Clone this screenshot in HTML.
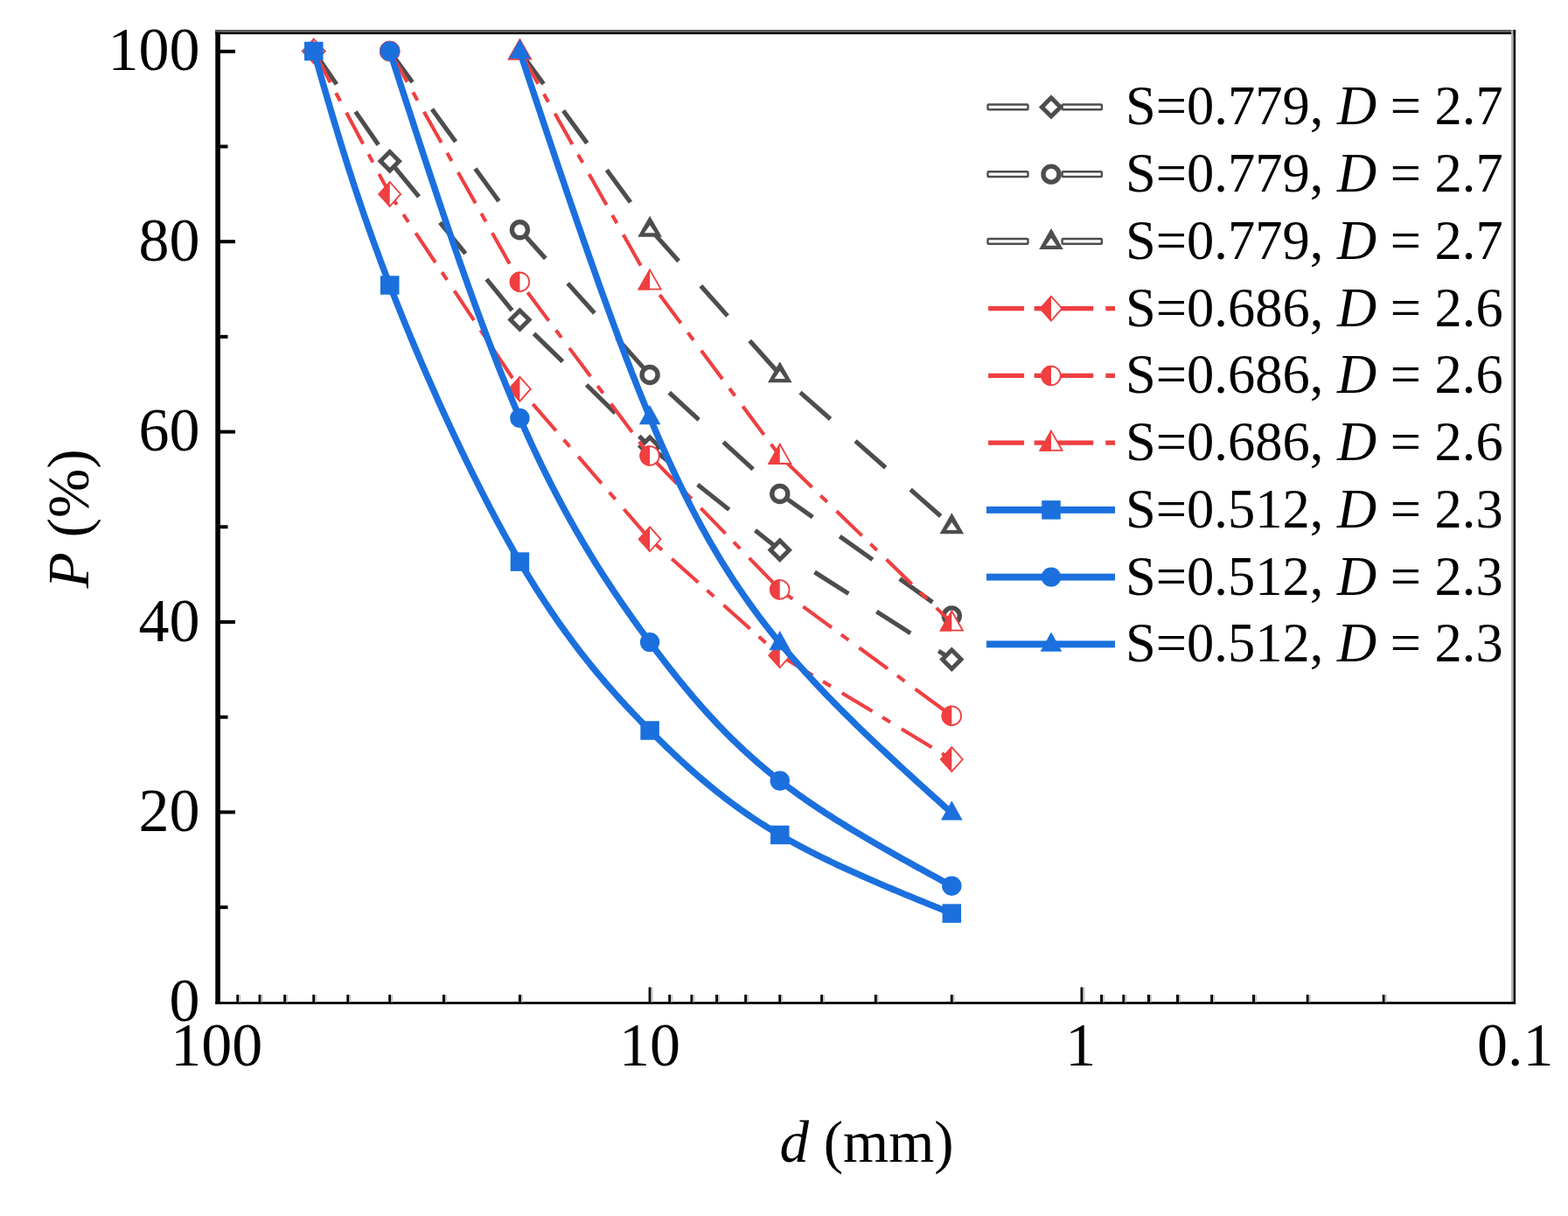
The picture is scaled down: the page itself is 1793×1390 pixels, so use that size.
<!DOCTYPE html>
<html><head><meta charset="utf-8"><title>Particle size distribution</title>
<style>html,body{margin:0;padding:0;background:#fff;overflow:hidden}svg{display:block}</style>
</head><body><svg width="1793" height="1390" viewBox="0 0 1793 1390"><rect width="1793" height="1390" fill="#fff"/><path d="M358.77 58.5L445.74 184.3" stroke="#4D4D4D" stroke-width="5.1" fill="none" stroke-dasharray="46 38" stroke-dashoffset="0"/><path d="M445.74 184.3L594.42 365.6" stroke="#4D4D4D" stroke-width="5.1" fill="none" stroke-dasharray="46 38" stroke-dashoffset="77.5"/><path d="M594.42 365.6L743.1 510.6" stroke="#4D4D4D" stroke-width="5.1" fill="none" stroke-dasharray="46 38" stroke-dashoffset="61.5"/><path d="M743.1 510.6L891.78 628.7" stroke="#4D4D4D" stroke-width="5.1" fill="none" stroke-dasharray="46 38" stroke-dashoffset="14.2"/><path d="M891.78 628.7L1088.32 753.8" stroke="#4D4D4D" stroke-width="5.1" fill="none" stroke-dasharray="46 38" stroke-dashoffset="36.9"/><path d="M358.77 44.3L372.97 58.5L358.77 72.7L344.57 58.5Z" fill="#4D4D4D"/><path d="M358.77 51.3L351.57 58.5L358.77 65.7L365.97 58.5Z" fill="#fff"/><path d="M445.74 170.1L459.94 184.3L445.74 198.5L431.54 184.3Z" fill="#4D4D4D"/><path d="M445.74 177.1L438.54 184.3L445.74 191.5L452.94 184.3Z" fill="#fff"/><path d="M594.42 351.4L608.62 365.6L594.42 379.8L580.22 365.6Z" fill="#4D4D4D"/><path d="M594.42 358.4L587.22 365.6L594.42 372.8L601.62 365.6Z" fill="#fff"/><path d="M743.1 496.4L757.3 510.6L743.1 524.8L728.9 510.6Z" fill="#4D4D4D"/><path d="M743.1 503.4L735.9 510.6L743.1 517.8L750.3 510.6Z" fill="#fff"/><path d="M891.78 614.5L905.98 628.7L891.78 642.9L877.58 628.7Z" fill="#4D4D4D"/><path d="M891.78 621.5L884.58 628.7L891.78 635.9L898.98 628.7Z" fill="#fff"/><path d="M1088.32 739.6L1102.52 753.8L1088.32 768L1074.12 753.8Z" fill="#4D4D4D"/><path d="M1088.32 746.6L1081.12 753.8L1088.32 761L1095.52 753.8Z" fill="#fff"/><path d="M445.74 58.5L594.42 262.8" stroke="#4D4D4D" stroke-width="5.1" fill="none" stroke-dasharray="46 38" stroke-dashoffset="2"/><path d="M594.42 262.8L743.1 428.5" stroke="#4D4D4D" stroke-width="5.1" fill="none" stroke-dasharray="46 38" stroke-dashoffset="2"/><path d="M743.1 428.5L891.78 564.5" stroke="#4D4D4D" stroke-width="5.1" fill="none" stroke-dasharray="46 38" stroke-dashoffset="54"/><path d="M891.78 564.5L1088.32 703.9" stroke="#4D4D4D" stroke-width="5.1" fill="none" stroke-dasharray="46 38" stroke-dashoffset="0"/><circle cx="445.74" cy="58.5" r="9" fill="#fff" stroke="#4D4D4D" stroke-width="5.4"/><circle cx="594.42" cy="262.8" r="9" fill="#fff" stroke="#4D4D4D" stroke-width="5.4"/><circle cx="743.1" cy="428.5" r="9" fill="#fff" stroke="#4D4D4D" stroke-width="5.4"/><circle cx="891.78" cy="564.5" r="9" fill="#fff" stroke="#4D4D4D" stroke-width="5.4"/><circle cx="1088.32" cy="703.9" r="9" fill="#fff" stroke="#4D4D4D" stroke-width="5.4"/><path d="M594.42 58.8L743.1 261.5" stroke="#4D4D4D" stroke-width="5.1" fill="none" stroke-dasharray="46 38" stroke-dashoffset="0"/><path d="M743.1 261.5L891.78 428.1" stroke="#4D4D4D" stroke-width="5.1" fill="none" stroke-dasharray="46 38" stroke-dashoffset="80.5"/><path d="M891.78 428.1L1088.32 601.1" stroke="#4D4D4D" stroke-width="5.1" fill="none" stroke-dasharray="46 38" stroke-dashoffset="53"/><path d="M594.42 44L608.22 68L580.62 68Z" fill="#4D4D4D"/><path d="M594.42 54.8L588.22 63.6L600.62 63.6Z" fill="#fff"/><path d="M743.1 246.7L756.9 270.7L729.3 270.7Z" fill="#4D4D4D"/><path d="M743.1 257.5L736.9 266.3L749.3 266.3Z" fill="#fff"/><path d="M891.78 413.3L905.58 437.3L877.98 437.3Z" fill="#4D4D4D"/><path d="M891.78 424.1L885.58 432.9L897.98 432.9Z" fill="#fff"/><path d="M1088.32 586.3L1102.12 610.3L1074.52 610.3Z" fill="#4D4D4D"/><path d="M1088.32 597.1L1082.12 605.9L1094.52 605.9Z" fill="#fff"/><path d="M358.77 58.5L445.74 221.9" stroke="#EF3F41" stroke-width="4.1" fill="none" stroke-dasharray="40.5 13.5 10.5 15" stroke-dashoffset="0"/><path d="M445.74 221.9L594.42 444.7" stroke="#EF3F41" stroke-width="4.1" fill="none" stroke-dasharray="40.5 13.5 10.5 15" stroke-dashoffset="26.1"/><path d="M594.42 444.7L743.1 616.3" stroke="#EF3F41" stroke-width="4.1" fill="none" stroke-dasharray="40.5 13.5 10.5 15" stroke-dashoffset="56.8"/><path d="M743.1 616.3L891.78 749.2" stroke="#EF3F41" stroke-width="4.1" fill="none" stroke-dasharray="40.5 13.5 10.5 15" stroke-dashoffset="45.8"/><path d="M891.78 749.2L1088.32 868" stroke="#EF3F41" stroke-width="4.1" fill="none" stroke-dasharray="40.5 13.5 10.5 15" stroke-dashoffset="76"/><path d="M358.77 44.6L371.17 58.5L358.77 72.4L346.37 58.5Z" fill="#fff" stroke="#EF3F41" stroke-width="1.8"/><path d="M358.77 43.6L345.37 58.5L358.77 73.4Z" fill="#EF3F41"/><path d="M445.74 208L458.14 221.9L445.74 235.8L433.34 221.9Z" fill="#fff" stroke="#EF3F41" stroke-width="1.8"/><path d="M445.74 207L432.34 221.9L445.74 236.8Z" fill="#EF3F41"/><path d="M594.42 430.8L606.82 444.7L594.42 458.6L582.02 444.7Z" fill="#fff" stroke="#EF3F41" stroke-width="1.8"/><path d="M594.42 429.8L581.02 444.7L594.42 459.6Z" fill="#EF3F41"/><path d="M743.1 602.4L755.5 616.3L743.1 630.2L730.7 616.3Z" fill="#fff" stroke="#EF3F41" stroke-width="1.8"/><path d="M743.1 601.4L729.7 616.3L743.1 631.2Z" fill="#EF3F41"/><path d="M891.78 735.3L904.18 749.2L891.78 763.1L879.38 749.2Z" fill="#fff" stroke="#EF3F41" stroke-width="1.8"/><path d="M891.78 734.3L878.38 749.2L891.78 764.1Z" fill="#EF3F41"/><path d="M1088.32 854.1L1100.72 868L1088.32 881.9L1075.92 868Z" fill="#fff" stroke="#EF3F41" stroke-width="1.8"/><path d="M1088.32 853.1L1074.92 868L1088.32 882.9Z" fill="#EF3F41"/><path d="M445.74 58.5L594.42 322.3" stroke="#EF3F41" stroke-width="4.1" fill="none" stroke-dasharray="40.5 13.5 10.5 15" stroke-dashoffset="0"/><path d="M594.42 322.3L743.1 521" stroke="#EF3F41" stroke-width="4.1" fill="none" stroke-dasharray="40.5 13.5 10.5 15" stroke-dashoffset="64.6"/><path d="M743.1 521L891.78 673.9" stroke="#EF3F41" stroke-width="4.1" fill="none" stroke-dasharray="40.5 13.5 10.5 15" stroke-dashoffset="75.5"/><path d="M891.78 673.9L1088.32 818.2" stroke="#EF3F41" stroke-width="4.1" fill="none" stroke-dasharray="40.5 13.5 10.5 15" stroke-dashoffset="46.5"/><circle cx="445.74" cy="58.5" r="10.8" fill="#fff" stroke="#EF3F41" stroke-width="1.8"/><path d="M445.74 46.8A11.7 11.7 0 0 0 445.74 70.2Z" fill="#EF3F41"/><circle cx="594.42" cy="322.3" r="10.8" fill="#fff" stroke="#EF3F41" stroke-width="1.8"/><path d="M594.42 310.6A11.7 11.7 0 0 0 594.42 334Z" fill="#EF3F41"/><circle cx="743.1" cy="521" r="10.8" fill="#fff" stroke="#EF3F41" stroke-width="1.8"/><path d="M743.1 509.3A11.7 11.7 0 0 0 743.1 532.7Z" fill="#EF3F41"/><circle cx="891.78" cy="673.9" r="10.8" fill="#fff" stroke="#EF3F41" stroke-width="1.8"/><path d="M891.78 662.2A11.7 11.7 0 0 0 891.78 685.6Z" fill="#EF3F41"/><circle cx="1088.32" cy="818.2" r="10.8" fill="#fff" stroke="#EF3F41" stroke-width="1.8"/><path d="M1088.32 806.5A11.7 11.7 0 0 0 1088.32 829.9Z" fill="#EF3F41"/><path d="M594.42 58.8L743.1 321.9" stroke="#EF3F41" stroke-width="4.1" fill="none" stroke-dasharray="40.5 13.5 10.5 15" stroke-dashoffset="77.5"/><path d="M743.1 321.9L891.78 521.3" stroke="#EF3F41" stroke-width="4.1" fill="none" stroke-dasharray="40.5 13.5 10.5 15" stroke-dashoffset="60.7"/><path d="M891.78 521.3L1088.32 712" stroke="#EF3F41" stroke-width="4.1" fill="none" stroke-dasharray="40.5 13.5 10.5 15" stroke-dashoffset="68.7"/><path d="M594.42 45.3L607.02 67.5L581.82 67.5Z" fill="#fff" stroke="#EF3F41" stroke-width="1.8"/><path d="M594.42 44.1L580.62 68.4L594.42 68.4Z" fill="#EF3F41"/><path d="M743.1 308.4L755.7 330.6L730.5 330.6Z" fill="#fff" stroke="#EF3F41" stroke-width="1.8"/><path d="M743.1 307.2L729.3 331.5L743.1 331.5Z" fill="#EF3F41"/><path d="M891.78 507.8L904.38 530L879.18 530Z" fill="#fff" stroke="#EF3F41" stroke-width="1.8"/><path d="M891.78 506.6L877.98 530.9L891.78 530.9Z" fill="#EF3F41"/><path d="M1088.32 698.5L1100.92 720.7L1075.72 720.7Z" fill="#fff" stroke="#EF3F41" stroke-width="1.8"/><path d="M1088.32 697.3L1074.52 721.6L1088.32 721.6Z" fill="#EF3F41"/><path d="M358.77 58.5L359.95 62.62L361.13 66.73L362.31 70.85L363.49 74.97L364.67 79.09L365.85 83.21L367.04 87.34L368.23 91.47L369.43 95.6L370.62 99.75L371.83 103.89L373.03 108.04L374.25 112.2L375.47 116.37L376.69 120.55L377.92 124.73L379.16 128.92L380.41 133.13L381.67 137.34L382.93 141.56L384.2 145.8L385.49 150.05L386.78 154.31L388.08 158.58L389.39 162.87L390.72 167.17L392.06 171.48L393.41 175.81L394.77 180.16L396.14 184.53L397.53 188.91L398.93 193.31L400.35 197.72L401.78 202.16L403.23 206.61L404.69 211.09L406.17 215.59L407.67 220.1L409.18 224.64L410.71 229.2L412.26 233.79L413.83 238.4L415.42 243.03L417.02 247.68L418.65 252.37L420.3 257.07L421.96 261.81L423.65 266.57L425.36 271.36L427.1 276.17L428.85 281.02L430.63 285.89L432.43 290.79L434.26 295.73L436.11 300.69L437.98 305.69L439.88 310.72L441.81 315.78L443.76 320.87L445.74 326L447.75 331.16L449.78 336.36L451.84 341.58L453.93 346.84L456.04 352.12L458.17 357.43L460.33 362.77L462.51 368.13L464.71 373.51L466.94 378.91L469.19 384.34L471.46 389.78L473.75 395.23L476.06 400.7L478.39 406.19L480.73 411.68L483.1 417.19L485.48 422.7L487.89 428.22L490.3 433.75L492.74 439.28L495.19 444.82L497.65 450.35L500.13 455.89L502.63 461.42L505.13 466.95L507.65 472.47L510.19 477.99L512.73 483.5L515.28 489L517.85 494.49L520.43 499.97L523.01 505.43L525.61 510.88L528.21 516.31L530.82 521.72L533.44 527.11L536.06 532.48L538.69 537.83L541.33 543.15L543.97 548.44L546.62 553.71L549.27 558.95L551.93 564.16L554.58 569.34L557.24 574.48L559.9 579.59L562.57 584.66L565.23 589.69L567.89 594.68L570.56 599.64L573.22 604.55L575.88 609.41L578.54 614.23L581.2 619L583.85 623.73L586.5 628.4L589.15 633.02L591.79 637.59L594.42 642.1L597.05 646.56L599.67 650.96L602.29 655.3L604.91 659.6L607.51 663.84L610.11 668.02L612.71 672.16L615.3 676.24L617.88 680.27L620.46 684.25L623.03 688.18L625.6 692.07L628.16 695.9L630.72 699.69L633.27 703.43L635.82 707.13L638.36 710.78L640.89 714.39L643.42 717.95L645.95 721.47L648.47 724.95L650.98 728.38L653.49 731.78L656 735.13L658.5 738.45L660.99 741.72L663.48 744.96L665.97 748.16L668.45 751.32L670.92 754.45L673.39 757.54L675.86 760.6L678.32 763.63L680.78 766.62L683.23 769.58L685.67 772.5L688.12 775.4L690.55 778.26L692.99 781.1L695.42 783.9L697.84 786.68L700.26 789.43L702.68 792.15L705.09 794.85L707.49 797.52L709.9 800.17L712.29 802.79L714.69 805.39L717.08 807.96L719.46 810.52L721.84 813.05L724.22 815.56L726.6 818.05L728.97 820.53L731.33 822.98L733.69 825.42L736.05 827.84L738.4 830.24L740.75 832.63L743.1 835L745.44 837.36L747.78 839.7L750.12 842.03L752.45 844.35L754.78 846.65L757.11 848.93L759.44 851.21L761.77 853.47L764.1 855.71L766.42 857.95L768.75 860.17L771.08 862.37L773.41 864.56L775.74 866.74L778.07 868.91L780.41 871.06L782.75 873.2L785.09 875.33L787.43 877.45L789.78 879.55L792.14 881.64L794.49 883.72L796.86 885.78L799.23 887.84L801.6 889.88L803.98 891.91L806.37 893.92L808.77 895.93L811.17 897.92L813.59 899.91L816.01 901.88L818.44 903.83L820.88 905.78L823.32 907.72L825.78 909.64L828.25 911.56L830.73 913.46L833.23 915.35L835.73 917.23L838.25 919.1L840.78 920.96L843.32 922.81L845.87 924.65L848.44 926.48L851.03 928.3L853.62 930.11L856.24 931.9L858.87 933.69L861.51 935.47L864.17 937.24L866.85 939L869.55 940.74L872.26 942.48L874.99 944.21L877.74 945.93L880.51 947.65L883.3 949.35L886.1 951.04L888.93 952.72L891.78 954.4L894.7 956.09L897.63 957.78L900.59 959.46L903.57 961.13L906.57 962.79L909.59 964.44L912.63 966.08L915.69 967.72L918.77 969.34L921.86 970.96L924.98 972.57L928.11 974.18L931.25 975.78L934.42 977.37L937.6 978.95L940.8 980.53L944.01 982.1L947.24 983.66L950.48 985.22L953.74 986.77L957.01 988.31L960.3 989.85L963.6 991.39L966.91 992.92L970.24 994.44L973.58 995.96L976.93 997.47L980.29 998.98L983.66 1000.48L987.04 1001.98L990.44 1003.47L993.85 1004.96L997.26 1006.44L1000.68 1007.92L1004.12 1009.4L1007.56 1010.88L1011.01 1012.35L1014.47 1013.81L1017.94 1015.28L1021.41 1016.74L1024.89 1018.19L1028.38 1019.65L1031.87 1021.1L1035.37 1022.55L1038.88 1024L1042.39 1025.44L1045.9 1026.88L1049.42 1028.33L1052.95 1029.76L1056.47 1031.2L1060 1032.64L1063.54 1034.07L1067.07 1035.51L1070.61 1036.94L1074.15 1038.37L1077.69 1039.81L1081.23 1041.24L1084.78 1042.67L1088.32 1044.1" stroke="#1B70DE" stroke-width="7.4" fill="none" stroke-linejoin="round"/><rect x="348.02" y="47.75" width="21.5" height="21.5" fill="#1B70DE"/><rect x="434.99" y="315.25" width="21.5" height="21.5" fill="#1B70DE"/><rect x="583.67" y="631.35" width="21.5" height="21.5" fill="#1B70DE"/><rect x="732.35" y="824.25" width="21.5" height="21.5" fill="#1B70DE"/><rect x="881.03" y="943.65" width="21.5" height="21.5" fill="#1B70DE"/><rect x="1077.57" y="1033.35" width="21.5" height="21.5" fill="#1B70DE"/><path d="M445.74 58.5L448.21 66.11L450.67 73.73L453.13 81.34L455.6 88.94L458.06 96.55L460.53 104.14L462.99 111.74L465.45 119.32L467.92 126.9L470.38 134.46L472.85 142.02L475.31 149.56L477.78 157.1L480.25 164.61L482.71 172.12L485.18 179.61L487.65 187.08L490.11 194.53L492.58 201.97L495.05 209.38L497.52 216.78L499.99 224.15L502.46 231.5L504.93 238.83L507.4 246.13L509.87 253.41L512.34 260.66L514.81 267.88L517.29 275.07L519.76 282.23L522.24 289.36L524.71 296.46L527.19 303.52L529.67 310.55L532.14 317.55L534.62 324.51L537.1 331.43L539.58 338.31L542.06 345.15L544.55 351.96L547.03 358.72L549.51 365.44L552 372.11L554.48 378.74L556.97 385.33L559.46 391.86L561.95 398.35L564.44 404.79L566.93 411.19L569.42 417.53L571.92 423.81L574.41 430.05L576.91 436.23L579.41 442.36L581.91 448.43L584.41 454.44L586.91 460.4L589.41 466.29L591.92 472.13L594.42 477.9L596.93 483.61L599.44 489.26L601.95 494.85L604.46 500.38L606.97 505.85L609.48 511.26L611.99 516.61L614.51 521.91L617.02 527.14L619.54 532.32L622.05 537.45L624.57 542.52L627.08 547.53L629.6 552.49L632.11 557.4L634.63 562.26L637.14 567.06L639.65 571.82L642.17 576.52L644.68 581.17L647.19 585.78L649.7 590.33L652.21 594.84L654.71 599.3L657.22 603.72L659.72 608.08L662.23 612.41L664.73 616.69L667.23 620.92L669.72 625.11L672.22 629.26L674.71 633.37L677.2 637.44L679.69 641.46L682.17 645.45L684.65 649.4L687.13 653.3L689.61 657.18L692.08 661.01L694.55 664.81L697.02 668.57L699.48 672.29L701.94 675.98L704.4 679.64L706.85 683.27L709.3 686.86L711.74 690.42L714.18 693.95L716.62 697.45L719.05 700.91L721.48 704.35L723.9 707.76L726.32 711.15L728.73 714.5L731.14 717.83L733.54 721.13L735.94 724.41L738.33 727.66L740.72 730.89L743.1 734.1L745.48 737.28L747.85 740.44L750.21 743.58L752.57 746.7L754.93 749.79L757.28 752.87L759.63 755.92L761.98 758.95L764.33 761.96L766.67 764.95L769.02 767.92L771.36 770.87L773.7 773.8L776.04 776.7L778.39 779.59L780.73 782.46L783.08 785.31L785.42 788.14L787.77 790.95L790.13 793.75L792.48 796.52L794.84 799.28L797.21 802.02L799.58 804.74L801.95 807.44L804.33 810.12L806.72 812.79L809.11 815.44L811.51 818.08L813.91 820.69L816.33 823.3L818.75 825.88L821.18 828.45L823.62 831L826.07 833.54L828.53 836.06L831 838.57L833.49 841.06L835.98 843.54L838.48 846L841 848.45L843.53 850.88L846.07 853.3L848.63 855.71L851.2 858.1L853.79 860.48L856.39 862.84L859.01 865.2L861.64 867.54L864.29 869.87L866.95 872.18L869.64 874.48L872.34 876.78L875.06 879.06L877.79 881.32L880.55 883.58L883.33 885.83L886.12 888.06L888.94 890.29L891.78 892.5L894.69 894.74L897.62 896.97L900.57 899.19L903.54 901.4L906.53 903.6L909.54 905.79L912.58 907.97L915.63 910.14L918.7 912.31L921.79 914.46L924.9 916.6L928.02 918.74L931.17 920.87L934.33 922.99L937.5 925.1L940.7 927.2L943.91 929.3L947.13 931.38L950.38 933.47L953.63 935.54L956.9 937.6L960.19 939.66L963.49 941.72L966.8 943.76L970.12 945.8L973.46 947.84L976.81 949.87L980.18 951.89L983.55 953.9L986.94 955.92L990.33 957.92L993.74 959.92L997.16 961.92L1000.58 963.91L1004.02 965.9L1007.46 967.88L1010.92 969.86L1014.38 971.83L1017.85 973.8L1021.33 975.77L1024.81 977.73L1028.3 979.69L1031.8 981.65L1035.3 983.61L1038.81 985.56L1042.33 987.51L1045.85 989.45L1049.37 991.4L1052.9 993.34L1056.43 995.28L1059.97 997.22L1063.5 999.16L1067.04 1001.1L1070.59 1003.03L1074.13 1004.97L1077.68 1006.9L1081.22 1008.83L1084.77 1010.77L1088.32 1012.7" stroke="#1B70DE" stroke-width="7.4" fill="none" stroke-linejoin="round"/><circle cx="445.74" cy="58.5" r="11.2" fill="#1B70DE"/><circle cx="594.42" cy="477.9" r="11.2" fill="#1B70DE"/><circle cx="743.1" cy="734.1" r="11.2" fill="#1B70DE"/><circle cx="891.78" cy="892.5" r="11.2" fill="#1B70DE"/><circle cx="1088.32" cy="1012.7" r="11.2" fill="#1B70DE"/><path d="M594.42 58.8L596.95 66.41L599.48 74.02L602.01 81.63L604.54 89.24L607.08 96.84L609.61 104.43L612.13 112.02L614.66 119.6L617.19 127.18L619.72 134.74L622.24 142.29L624.77 149.83L627.29 157.36L629.82 164.88L632.34 172.38L634.86 179.86L637.38 187.33L639.9 194.77L642.41 202.2L644.93 209.61L647.44 217L649.95 224.36L652.46 231.7L654.96 239.02L657.47 246.31L659.97 253.58L662.47 260.81L664.97 268.02L667.46 275.2L669.96 282.34L672.45 289.46L674.93 296.54L677.42 303.58L679.9 310.6L682.38 317.57L684.85 324.51L687.33 331.41L689.79 338.27L692.26 345.09L694.72 351.86L697.18 358.6L699.64 365.29L702.09 371.93L704.53 378.53L706.98 385.09L709.42 391.59L711.85 398.05L714.28 404.45L716.71 410.81L719.13 417.11L721.55 423.35L723.96 429.55L726.37 435.68L728.78 441.77L731.18 447.79L733.57 453.75L735.96 459.66L738.35 465.5L740.73 471.28L743.1 477L745.47 482.65L747.83 488.25L750.19 493.77L752.55 499.24L754.9 504.65L757.25 509.99L759.6 515.28L761.94 520.51L764.28 525.69L766.62 530.8L768.96 535.86L771.3 540.87L773.64 545.83L775.98 550.73L778.33 555.58L780.67 560.38L783.01 565.12L785.36 569.82L787.71 574.48L790.06 579.08L792.42 583.64L794.78 588.15L797.14 592.62L799.51 597.05L801.88 601.43L804.26 605.77L806.65 610.07L809.04 614.33L811.44 618.55L813.85 622.73L816.27 626.88L818.69 630.99L821.12 635.06L823.56 639.1L826.02 643.11L828.48 647.08L830.95 651.02L833.43 654.93L835.93 658.81L838.44 662.66L840.96 666.48L843.49 670.27L846.04 674.04L848.6 677.78L851.17 681.5L853.76 685.19L856.36 688.87L858.98 692.51L861.61 696.14L864.27 699.75L866.93 703.34L869.62 706.9L872.32 710.46L875.04 713.99L877.78 717.51L880.54 721.01L883.32 724.5L886.12 727.98L888.94 731.45L891.78 734.9L894.69 738.4L897.62 741.89L900.57 745.37L903.54 748.84L906.54 752.3L909.55 755.75L912.59 759.19L915.64 762.62L918.71 766.05L921.8 769.46L924.91 772.86L928.04 776.26L931.18 779.64L934.34 783.02L937.52 786.39L940.72 789.75L943.93 793.11L947.15 796.45L950.4 799.79L953.65 803.12L956.92 806.45L960.21 809.76L963.51 813.08L966.82 816.38L970.15 819.68L973.49 822.97L976.84 826.25L980.2 829.53L983.57 832.81L986.96 836.08L990.35 839.34L993.76 842.6L997.18 845.85L1000.6 849.1L1004.04 852.34L1007.48 855.58L1010.94 858.82L1014.4 862.05L1017.87 865.28L1021.34 868.5L1024.83 871.72L1028.32 874.94L1031.81 878.15L1035.32 881.36L1038.83 884.57L1042.34 887.78L1045.86 890.98L1049.38 894.18L1052.91 897.38L1056.44 900.58L1059.97 903.77L1063.51 906.97L1067.05 910.16L1070.59 913.35L1074.14 916.54L1077.68 919.73L1081.23 922.92L1084.77 926.11L1088.32 929.3" stroke="#1B70DE" stroke-width="7.4" fill="none" stroke-linejoin="round"/><path d="M594.42 44.8L606.72 67.1L582.12 67.1Z" fill="#1B70DE"/><path d="M743.1 463L755.4 485.3L730.8 485.3Z" fill="#1B70DE"/><path d="M891.78 720.9L904.08 743.2L879.48 743.2Z" fill="#1B70DE"/><path d="M1088.32 915.3L1100.62 937.6L1076.02 937.6Z" fill="#1B70DE"/><rect x="246.3" y="34" width="5.6" height="1113.8" fill="#000"/><rect x="246.3" y="34" width="1486.8" height="2.9" fill="#5e5e5e"/><rect x="246.3" y="36.9" width="1486.8" height="2.3" fill="#000"/><rect x="1728.1" y="34" width="2.5" height="1113.8" fill="#b0b0b0"/><rect x="1730.6" y="34" width="2.5" height="1113.8" fill="#000"/><rect x="246.3" y="1145.1" width="1486.8" height="2.8" fill="#000"/><rect x="251.5" y="1035.1" width="9.0" height="4" fill="#000"/><rect x="251.5" y="926.4" width="17.5" height="4" fill="#000"/><rect x="251.5" y="817.7" width="9.0" height="4" fill="#000"/><rect x="251.5" y="709" width="17.5" height="4" fill="#000"/><rect x="251.5" y="600.3" width="9.0" height="4" fill="#000"/><rect x="251.5" y="491.6" width="17.5" height="4" fill="#000"/><rect x="251.5" y="382.9" width="9.0" height="4" fill="#000"/><rect x="251.5" y="274.2" width="17.5" height="4" fill="#000"/><rect x="251.5" y="165.5" width="9.0" height="4" fill="#000"/><rect x="251.5" y="56.8" width="17.5" height="4" fill="#000"/><rect x="741.6" y="1128.5" width="3" height="17" fill="#000"/><rect x="744.6" y="1128.5" width="2" height="17" fill="#c8c8c8"/><rect x="1235.5" y="1128.5" width="3" height="17" fill="#000"/><rect x="1238.5" y="1128.5" width="2" height="17" fill="#c8c8c8"/><rect x="592.92" y="1137" width="3" height="8.5" fill="#000"/><rect x="595.92" y="1137" width="2" height="8.5" fill="#c8c8c8"/><rect x="505.95" y="1137" width="3" height="8.5" fill="#000"/><rect x="508.95" y="1137" width="2" height="8.5" fill="#c8c8c8"/><rect x="444.24" y="1137" width="3" height="8.5" fill="#000"/><rect x="447.24" y="1137" width="2" height="8.5" fill="#c8c8c8"/><rect x="396.38" y="1137" width="3" height="8.5" fill="#000"/><rect x="399.38" y="1137" width="2" height="8.5" fill="#c8c8c8"/><rect x="357.27" y="1137" width="3" height="8.5" fill="#000"/><rect x="360.27" y="1137" width="2" height="8.5" fill="#c8c8c8"/><rect x="324.21" y="1137" width="3" height="8.5" fill="#000"/><rect x="327.21" y="1137" width="2" height="8.5" fill="#c8c8c8"/><rect x="295.56" y="1137" width="3" height="8.5" fill="#000"/><rect x="298.56" y="1137" width="2" height="8.5" fill="#c8c8c8"/><rect x="270.3" y="1137" width="3" height="8.5" fill="#000"/><rect x="273.3" y="1137" width="2" height="8.5" fill="#c8c8c8"/><rect x="1086.82" y="1137" width="3" height="8.5" fill="#000"/><rect x="1089.82" y="1137" width="2" height="8.5" fill="#c8c8c8"/><rect x="999.85" y="1137" width="3" height="8.5" fill="#000"/><rect x="1002.85" y="1137" width="2" height="8.5" fill="#c8c8c8"/><rect x="938.14" y="1137" width="3" height="8.5" fill="#000"/><rect x="941.14" y="1137" width="2" height="8.5" fill="#c8c8c8"/><rect x="890.28" y="1137" width="3" height="8.5" fill="#000"/><rect x="893.28" y="1137" width="2" height="8.5" fill="#c8c8c8"/><rect x="851.17" y="1137" width="3" height="8.5" fill="#000"/><rect x="854.17" y="1137" width="2" height="8.5" fill="#c8c8c8"/><rect x="818.11" y="1137" width="3" height="8.5" fill="#000"/><rect x="821.11" y="1137" width="2" height="8.5" fill="#c8c8c8"/><rect x="789.46" y="1137" width="3" height="8.5" fill="#000"/><rect x="792.46" y="1137" width="2" height="8.5" fill="#c8c8c8"/><rect x="764.2" y="1137" width="3" height="8.5" fill="#000"/><rect x="767.2" y="1137" width="2" height="8.5" fill="#c8c8c8"/><rect x="1580.72" y="1137" width="3" height="8.5" fill="#000"/><rect x="1583.72" y="1137" width="2" height="8.5" fill="#c8c8c8"/><rect x="1493.75" y="1137" width="3" height="8.5" fill="#000"/><rect x="1496.75" y="1137" width="2" height="8.5" fill="#c8c8c8"/><rect x="1432.04" y="1137" width="3" height="8.5" fill="#000"/><rect x="1435.04" y="1137" width="2" height="8.5" fill="#c8c8c8"/><rect x="1384.18" y="1137" width="3" height="8.5" fill="#000"/><rect x="1387.18" y="1137" width="2" height="8.5" fill="#c8c8c8"/><rect x="1345.07" y="1137" width="3" height="8.5" fill="#000"/><rect x="1348.07" y="1137" width="2" height="8.5" fill="#c8c8c8"/><rect x="1312.01" y="1137" width="3" height="8.5" fill="#000"/><rect x="1315.01" y="1137" width="2" height="8.5" fill="#c8c8c8"/><rect x="1283.36" y="1137" width="3" height="8.5" fill="#000"/><rect x="1286.36" y="1137" width="2" height="8.5" fill="#c8c8c8"/><rect x="1258.1" y="1137" width="3" height="8.5" fill="#000"/><rect x="1261.1" y="1137" width="2" height="8.5" fill="#c8c8c8"/><text x="228.6" y="1167.4" font-size="70" text-anchor="end" font-family="'Liberation Serif','Times New Roman',serif">0</text><text x="228.6" y="950" font-size="70" text-anchor="end" font-family="'Liberation Serif','Times New Roman',serif">20</text><text x="228.6" y="732.6" font-size="70" text-anchor="end" font-family="'Liberation Serif','Times New Roman',serif">40</text><text x="228.6" y="515.2" font-size="70" text-anchor="end" font-family="'Liberation Serif','Times New Roman',serif">60</text><text x="228.6" y="297.8" font-size="70" text-anchor="end" font-family="'Liberation Serif','Times New Roman',serif">80</text><text x="228.6" y="80.4" font-size="70" text-anchor="end" font-family="'Liberation Serif','Times New Roman',serif">100</text><text x="195.2" y="1217.8" font-size="70" font-family="'Liberation Serif','Times New Roman',serif">100</text><text x="708" y="1217.8" font-size="70" font-family="'Liberation Serif','Times New Roman',serif">10</text><text x="1218.2" y="1217.8" font-size="70" font-family="'Liberation Serif','Times New Roman',serif">1</text><text x="1689" y="1217.8" font-size="70" font-family="'Liberation Serif','Times New Roman',serif">0.1</text><text x="891.5" y="1328" font-size="67" font-family="'Liberation Serif','Times New Roman',serif"><tspan font-style="italic">d</tspan> (mm)</text><text transform="translate(101.3,672.5) rotate(-90)" font-size="67.5" font-family="'Liberation Serif','Times New Roman',serif"><tspan font-style="italic">P</tspan> (%)</text><rect x="1129.5" y="119.55" width="46" height="5.7" fill="#fff" stroke="#4D4D4D" stroke-width="2.4" rx="1"/><rect x="1214.6" y="119.55" width="45.3" height="5.7" fill="#fff" stroke="#4D4D4D" stroke-width="2.4" rx="1"/><path d="M1202 108.2L1216.2 122.4L1202 136.6L1187.8 122.4Z" fill="#4D4D4D"/><path d="M1202 115.2L1194.8 122.4L1202 129.6L1209.2 122.4Z" fill="#fff"/><text x="1287" y="142.4" font-size="62.5" font-family="'Liberation Serif','Times New Roman',serif">S=0.779, <tspan font-style="italic">D</tspan> = 2.7</text><rect x="1129.5" y="196.3" width="46" height="5.7" fill="#fff" stroke="#4D4D4D" stroke-width="2.4" rx="1"/><rect x="1214.6" y="196.3" width="45.3" height="5.7" fill="#fff" stroke="#4D4D4D" stroke-width="2.4" rx="1"/><circle cx="1202" cy="199.15" r="9" fill="#fff" stroke="#4D4D4D" stroke-width="5.4"/><text x="1287" y="219.15" font-size="62.5" font-family="'Liberation Serif','Times New Roman',serif">S=0.779, <tspan font-style="italic">D</tspan> = 2.7</text><rect x="1129.5" y="273.05" width="46" height="5.7" fill="#fff" stroke="#4D4D4D" stroke-width="2.4" rx="1"/><rect x="1214.6" y="273.05" width="45.3" height="5.7" fill="#fff" stroke="#4D4D4D" stroke-width="2.4" rx="1"/><path d="M1202 261.1L1215.8 285.1L1188.2 285.1Z" fill="#4D4D4D"/><path d="M1202 271.9L1195.8 280.7L1208.2 280.7Z" fill="#fff"/><text x="1287" y="295.9" font-size="62.5" font-family="'Liberation Serif','Times New Roman',serif">S=0.779, <tspan font-style="italic">D</tspan> = 2.7</text><rect x="1130.1" y="350" width="41" height="5.3" fill="#EF3F41"/><rect x="1182.6" y="350" width="11.4" height="5.3" fill="#EF3F41"/><rect x="1209" y="350" width="41.2" height="5.3" fill="#EF3F41"/><rect x="1264.3" y="350" width="10.7" height="5.3" fill="#EF3F41"/><path d="M1202 338.75L1214.4 352.65L1202 366.55L1189.6 352.65Z" fill="#fff" stroke="#EF3F41" stroke-width="1.8"/><path d="M1202 337.75L1188.6 352.65L1202 367.55Z" fill="#EF3F41"/><text x="1287" y="372.65" font-size="62.5" font-family="'Liberation Serif','Times New Roman',serif">S=0.686, <tspan font-style="italic">D</tspan> = 2.6</text><rect x="1130.1" y="426.75" width="41" height="5.3" fill="#EF3F41"/><rect x="1182.6" y="426.75" width="11.4" height="5.3" fill="#EF3F41"/><rect x="1209" y="426.75" width="41.2" height="5.3" fill="#EF3F41"/><rect x="1264.3" y="426.75" width="10.7" height="5.3" fill="#EF3F41"/><circle cx="1202" cy="429.4" r="10.8" fill="#fff" stroke="#EF3F41" stroke-width="1.8"/><path d="M1202 417.7A11.7 11.7 0 0 0 1202 441.1Z" fill="#EF3F41"/><text x="1287" y="449.4" font-size="62.5" font-family="'Liberation Serif','Times New Roman',serif">S=0.686, <tspan font-style="italic">D</tspan> = 2.6</text><rect x="1130.1" y="503.5" width="41" height="5.3" fill="#EF3F41"/><rect x="1182.6" y="503.5" width="11.4" height="5.3" fill="#EF3F41"/><rect x="1209" y="503.5" width="41.2" height="5.3" fill="#EF3F41"/><rect x="1264.3" y="503.5" width="10.7" height="5.3" fill="#EF3F41"/><path d="M1202 492.65L1214.6 514.85L1189.4 514.85Z" fill="#fff" stroke="#EF3F41" stroke-width="1.8"/><path d="M1202 491.45L1188.2 515.75L1202 515.75Z" fill="#EF3F41"/><text x="1287" y="526.15" font-size="62.5" font-family="'Liberation Serif','Times New Roman',serif">S=0.686, <tspan font-style="italic">D</tspan> = 2.6</text><rect x="1128" y="578.95" width="147" height="7.9" fill="#1B70DE"/><rect x="1191.25" y="572.15" width="21.5" height="21.5" fill="#1B70DE"/><text x="1287" y="602.9" font-size="62.5" font-family="'Liberation Serif','Times New Roman',serif">S=0.512, <tspan font-style="italic">D</tspan> = 2.3</text><rect x="1128" y="655.7" width="147" height="7.9" fill="#1B70DE"/><circle cx="1202" cy="659.65" r="11.2" fill="#1B70DE"/><text x="1287" y="679.65" font-size="62.5" font-family="'Liberation Serif','Times New Roman',serif">S=0.512, <tspan font-style="italic">D</tspan> = 2.3</text><rect x="1128" y="732.45" width="147" height="7.9" fill="#1B70DE"/><path d="M1202 722.4L1214.3 744.7L1189.7 744.7Z" fill="#1B70DE"/><text x="1287" y="756.4" font-size="62.5" font-family="'Liberation Serif','Times New Roman',serif">S=0.512, <tspan font-style="italic">D</tspan> = 2.3</text></svg></body></html>
